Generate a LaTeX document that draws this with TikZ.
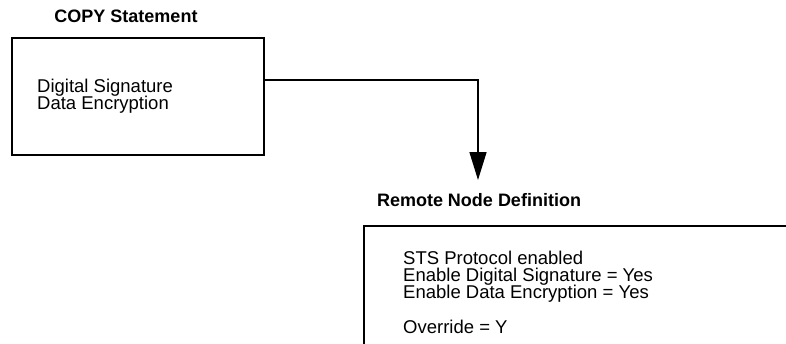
\documentclass[tikz,border=0pt]{standalone}
\usepackage{fontspec}
\setmainfont{Liberation Sans}
\usetikzlibrary{arrows.meta}

\begin{document}
\begin{tikzpicture}[x=1pt,y=1pt,yscale=-1,xscale=1,
  title/.style={font=\fontsize{18}{18}\selectfont\bfseries},
  panel/.style={draw,line width=1.6pt,inner sep=0pt},
  body/.style={font=\fontsize{18.5}{17.3}\selectfont,align=left,inner sep=0pt}]
\path[use as bounding box,clip] (0,0) rectangle (786,343);

%Titles
\node[title] (copytitle) at (126,16.5) {COPY Statement};
\node[title] (remotetitle) at (479,200) {Remote Node Definition};

%COPY box
\node[panel,anchor=north west,minimum width=252,minimum height=117] (copy) at (11,37) {};
\node[body,anchor=north west] (copytext) at (37,78.6) {Digital Signature\\Data Encryption};

%Remote node box, runs off the page
\node[panel,anchor=north west,minimum width=460,minimum height=140] (remote) at (363,225) {};
\node[body,anchor=north west] (remotetext) at (403,250.6) {STS Protocol enabled\\Enable Digital Signature = Yes\\Enable Data Encryption = Yes\\[17.6pt]Override = Y};

%Connector
\coordinate (bend) at (478,80);
\coordinate (tip) at (478,180);
\draw[line width=1.6pt,-{Triangle[length=28pt,width=17pt]}] (copy.east |- bend) -- (bend) -- (tip);

\end{tikzpicture}
\end{document}
